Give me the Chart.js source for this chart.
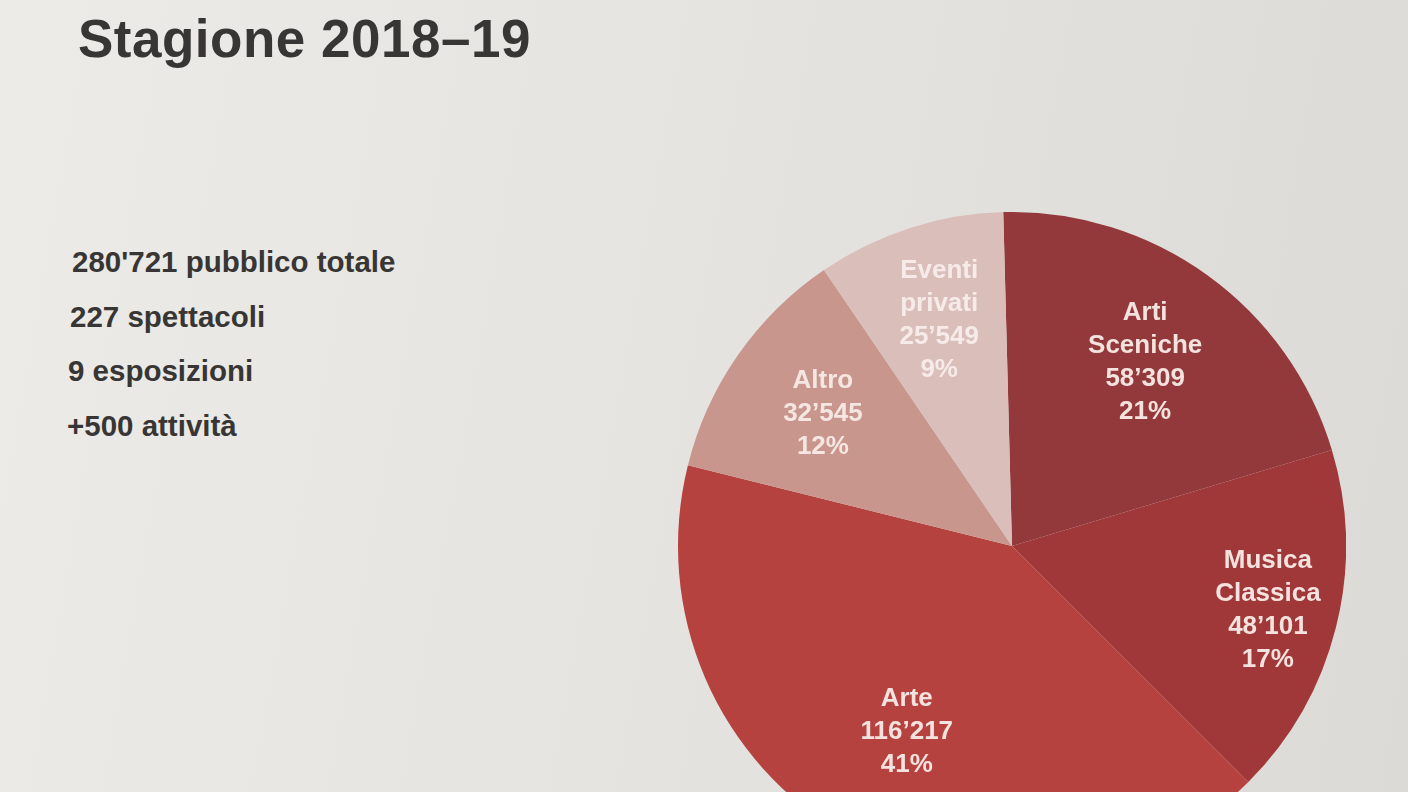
<!DOCTYPE html>
<html lang="it">
<head>
  <meta charset="UTF-8">
  <title>Stagione 2018-19</title>
  <script src="https://cdn.jsdelivr.net/npm/chart.js@4.4.1/dist/chart.umd.min.js"></script>
  <style>
    html, body { margin: 0; padding: 0; }
    body {
      width: 1408px; height: 792px; overflow: hidden; position: relative;
      background: linear-gradient(100deg, #ecebe7 0%, #e6e4e0 45%, #dcdad6 100%);
      font-family: "Liberation Sans", Arial, sans-serif;
      color: #383634;
    }
    h1 {
      position: absolute; left: 78px; top: 7px; margin: 0;
      font-size: 53px; font-weight: bold; letter-spacing: 0.5px; line-height: 64px;
    }
    .stats { position: absolute; left: 68px; top: 243px; margin: 0; padding: 0; list-style: none; }
    .stats li { font-size: 29.5px; font-weight: bold; height: 54.5px; line-height: 38px; }
    #pieWrap { position: absolute; left: 678px; top: 212px; width: 668px; height: 668px; }
  </style>
</head>
<body>

  <h1>Stagione 2018–19</h1>

  <ul class="stats">
    <li style="margin-left:4px">280'721 pubblico totale</li>
    <li style="margin-left:2px">227 spettacoli</li>
    <li style="margin-left:0px">9 esposizioni</li>
    <li style="margin-left:-1px">+500 attività</li>
  </ul>

  <div id="pieWrap"><canvas id="pieChart"></canvas></div>

  <script>
    // data
    const categories = [['Arti', 'Sceniche'], ['Musica', 'Classica'], ['Arte'], ['Altro'], ['Eventi', 'privati']];
    const visitors = [58309, 48101, 116217, 32545, 25549];
    const valueLabels = ["58’309", "48’101", "116’217", "32’545", "25’549"];
    const percentLabels = ['21%', '17%', '41%', '12%', '9%'];

    const sliceColors = ['#93393b', '#a0383a', '#b5423f', '#c8968d', '#dabeb9'];
    const textColors = ['#f3e2de', '#f3e2de', '#f3e2de', '#f5e6e2', '#f6ebe9'];
    // how far out (share of radius) each label block sits
    const labelDistance = [0.68, 0.79, 0.64, 0.69, 0.71];

    const sliceLabels = {
      id: 'sliceLabels',
      afterDatasetsDraw(chart) {
        const { ctx } = chart;
        const meta = chart.getDatasetMeta(0);
        ctx.save();
        ctx.font = 'bold 26px "Liberation Sans", Arial, sans-serif';
        ctx.textAlign = 'center';
        ctx.textBaseline = 'middle';
        meta.data.forEach((arc, i) => {
          const p = arc.getProps(['x', 'y', 'startAngle', 'endAngle', 'outerRadius'], true);
          const mid = (p.startAngle + p.endAngle) / 2;
          const r = p.outerRadius * labelDistance[i];
          const cx = p.x + Math.cos(mid) * r;
          const cy = p.y + Math.sin(mid) * r;
          const lines = categories[i].concat([valueLabels[i], percentLabels[i]]);
          const lh = 33;
          const top = cy - (lines.length - 1) * lh / 2;
          ctx.fillStyle = textColors[i];
          lines.forEach((t, k) => ctx.fillText(t, cx, top + k * lh));
        });
        ctx.restore();
      }
    };

    new Chart(document.getElementById('pieChart').getContext('2d'), {
      type: 'pie',
      data: {
        labels: categories.map(c => c.join(' ')),
        datasets: [{
          data: visitors,
          backgroundColor: sliceColors,
          borderWidth: 0
        }]
      },
      options: {
        responsive: true,
        maintainAspectRatio: false,
        animation: false,
        rotation: -1.5,
        layout: { padding: 0 },
        plugins: {
          legend: { display: false },
          tooltip: { enabled: false }
        }
      },
      plugins: [sliceLabels]
    });
  </script>
</body>
</html>
